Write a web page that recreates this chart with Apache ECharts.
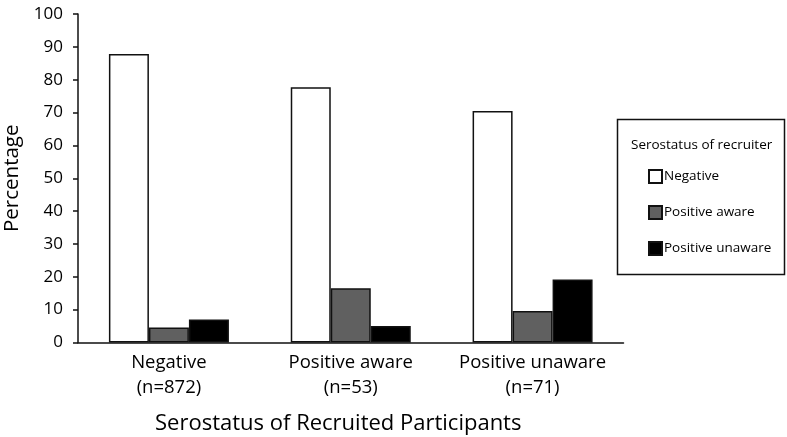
<!DOCTYPE html>
<html>
<head>
<meta charset="utf-8">
<script src="https://cdn.jsdelivr.net/npm/echarts@6/dist/echarts.min.js"></script>
<style>html,body{margin:0;padding:0;background:#fff;}#c{width:787px;height:437px;}</style>
</head>
<body>
<div id="c"></div>
<script>
const categoryNames = ['Negative', 'Positive aware', 'Positive unaware'];
const categoryN = ['(n=872)', '(n=53)', '(n=71)'];
const seriesNames = ['Negative', 'Positive aware', 'Positive unaware'];
const recruiterNegative = [87.8, 77.7, 70.5];
const recruiterPositiveAware = [4.6, 16.5, 9.6];
const recruiterPositiveUnaware = [7.0, 5.0, 19.2];
const yTicks = [0, 10, 20, 30, 40, 50, 60, 70, 80, 90, 100];

const FONT = 'Open Sans';
const chart = echarts.init(document.getElementById('c'), null, {renderer: 'canvas'});
const categories = categoryNames.map((n, i) => n + '\n' + categoryN[i]);
const seriesData = [recruiterNegative, recruiterPositiveAware, recruiterPositiveUnaware];
const fills = ['#ffffff', '#606060', '#000000'];

chart.setOption({
  animation: false,
  backgroundColor: '#ffffff',
  textStyle: {fontFamily: FONT},
  grid: {left: 78, right: 163.5, top: 14, bottom: 94.5, containLabel: false, outerBoundsMode: 'none'},
  xAxis: {
    type: 'category',
    data: categories,
    axisLine: {lineStyle: {color: '#111', width: 1.5}},
    axisTick: {show: false},
    axisLabel: {fontSize: 18.5, lineHeight: 25, color: '#000', margin: 8, fontFamily: FONT, interval: 0, hideOverlap: false},
    name: 'Serostatus of Recruited Participants',
    nameLocation: 'middle',
    nameGap: 70,
    nameTextStyle: {fontSize: 22, color: '#000', fontFamily: FONT, padding: [0, 25, 0, 0]}
  },
  yAxis: {
    type: 'value',
    min: yTicks[0],
    max: yTicks[yTicks.length - 1],
    interval: yTicks[1] - yTicks[0],
    axisLine: {show: true, lineStyle: {color: '#111', width: 1.5}},
    axisTick: {show: true, length: 5, lineStyle: {color: '#111', width: 1.5}},
    splitLine: {show: false},
    axisLabel: {fontSize: 17, color: '#000', margin: 15, fontFamily: FONT},
    name: 'Percentage',
    nameLocation: 'middle',
    nameGap: 52,
    nameTextStyle: {fontSize: 20.5, color: '#000', fontFamily: FONT}
  },
  legend: {
    orient: 'vertical',
    left: 643,
    top: 164,
    itemWidth: 13,
    itemHeight: 13,
    itemGap: 21,
    icon: 'rect',
    textStyle: {fontSize: 13.5, color: '#000', fontFamily: FONT, padding: [0, 0, 0, -3]},
    data: seriesNames
  },
  graphic: [
    {type: 'rect', shape: {x: 617.5, y: 119.5, width: 167, height: 155}, style: {fill: 'none', stroke: '#111', lineWidth: 1.5}, z: 100},
    {type: 'text', left: 631, top: 138, style: {text: 'Serostatus of recruiter', fontSize: 13.5, fill: '#000', fontFamily: FONT}, z: 100}
  ],
  series: seriesData.map((d, i) => ({
    type: 'bar',
    name: seriesNames[i],
    data: d,
    barWidth: 40,
    barGap: '0%',
    itemStyle: {color: fills[i], borderColor: '#111', borderWidth: 1.5}
  }))
});
</script>
</body>
</html>
